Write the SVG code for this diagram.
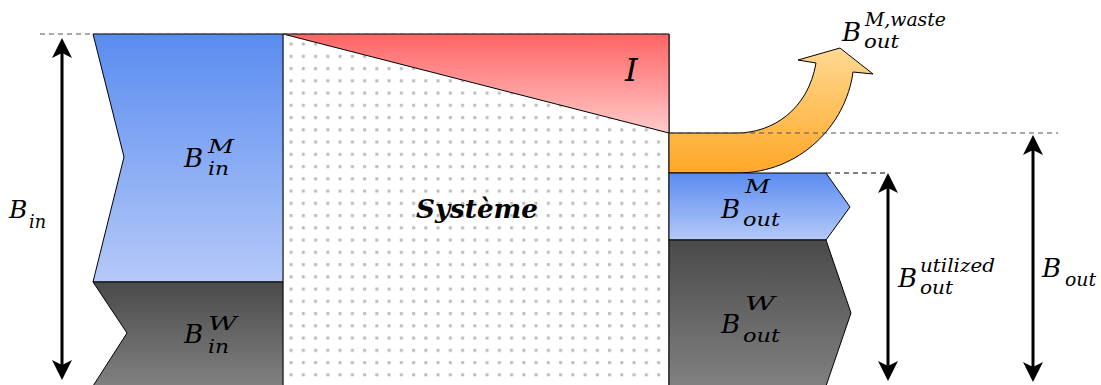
<svg xmlns="http://www.w3.org/2000/svg" width="1101" height="385" viewBox="0 0 1101 385">
<style>
.b{font-size:26px}
.s{font-size:19px}
.edge{stroke:#000;stroke-width:1;stroke-linejoin:miter}
.dash{stroke:#555;stroke-width:1;stroke-dasharray:5,4;fill:none}
.dim{stroke:#000;stroke-width:3;fill:none}
.head{fill:#000;stroke:none}
</style>
<defs>
<linearGradient id="gBlueIn" x1="0" y1="34" x2="0" y2="282" gradientUnits="userSpaceOnUse"><stop offset="0" stop-color="#5a8cf0"/><stop offset="1" stop-color="#b5c9f8"/></linearGradient>
<linearGradient id="gBlueOut" x1="0" y1="173" x2="0" y2="240" gradientUnits="userSpaceOnUse"><stop offset="0" stop-color="#5a8cf0"/><stop offset="1" stop-color="#b5c9f8"/></linearGradient>
<linearGradient id="gGrayIn" x1="0" y1="282" x2="0" y2="385" gradientUnits="userSpaceOnUse"><stop offset="0" stop-color="#4a4a4a"/><stop offset="1" stop-color="#808080"/></linearGradient>
<linearGradient id="gGrayOut" x1="0" y1="240" x2="0" y2="385" gradientUnits="userSpaceOnUse"><stop offset="0" stop-color="#4a4a4a"/><stop offset="1" stop-color="#808080"/></linearGradient>
<linearGradient id="gRed" x1="0" y1="34" x2="0" y2="133" gradientUnits="userSpaceOnUse"><stop offset="0" stop-color="#ff6464"/><stop offset="1" stop-color="#ffcaca"/></linearGradient>
<linearGradient id="gOrange" x1="0" y1="48" x2="0" y2="173" gradientUnits="userSpaceOnUse"><stop offset="0" stop-color="#ffd992"/><stop offset="1" stop-color="#ffa726"/></linearGradient>
<pattern id="dots" x="281" y="34" width="12.25" height="12.25" patternUnits="userSpaceOnUse"><rect x="8.6" y="8.6" width="3" height="3" fill="#bbbbbb"/></pattern>
</defs>

<g id="system" font-family="DejaVu Serif" font-style="italic">
<rect x="283" y="34" width="386" height="352" fill="#fff"/>
<rect x="283" y="34" width="386" height="352" fill="url(#dots)"/>
<line x1="283" y1="34" x2="283" y2="385" stroke="#999" stroke-width="1"/>
<line x1="669" y1="34" x2="669" y2="385" stroke="#000" stroke-width="1"/>
<text x="416" y="218" font-size="26" font-weight="bold" textLength="122" lengthAdjust="spacingAndGlyphs">Système</text>
</g>

<g id="irreversibility" font-family="DejaVu Serif" font-style="italic">
<polygon points="283,34 669,34 669,133" fill="url(#gRed)" class="edge"/>
<text x="625" y="81" font-size="32">I</text>
</g>

<g id="in-M" font-family="DejaVu Serif" font-style="italic">
<polygon points="93,34 283,34 283,282 93,282 124,157" fill="url(#gBlueIn)" class="edge"/>
<text class="b" x="184" y="167">B</text>
<text class="s" x="208" y="153" textLength="26" lengthAdjust="spacingAndGlyphs">M</text>
<text class="s" x="208" y="175" textLength="21" lengthAdjust="spacingAndGlyphs">in</text>
</g>

<g id="in-W" font-family="DejaVu Serif" font-style="italic">
<polygon points="93,282 283,282 283,386 93,386 127,333" fill="url(#gGrayIn)" class="edge"/>
<text class="b" x="184" y="343">B</text>
<text class="s" x="208" y="330" textLength="29" lengthAdjust="spacingAndGlyphs">W</text>
<text class="s" x="208" y="353" textLength="21" lengthAdjust="spacingAndGlyphs">in</text>
</g>

<g id="out-waste" font-family="DejaVu Serif" font-style="italic">
<path d="M669,173 L737,173 C800,173 846,125 853,72 L873,74 L840,48 L798,60 L816,63 C808,110 772,133 737,133 L669,133 Z" fill="url(#gOrange)" class="edge"/>
<text class="b" x="842" y="41">B</text>
<text class="s" x="865" y="26" textLength="81" lengthAdjust="spacingAndGlyphs">M,waste</text>
<text class="s" x="864" y="48" textLength="35" lengthAdjust="spacingAndGlyphs">out</text>
</g>

<g id="out-M" font-family="DejaVu Serif" font-style="italic">
<polygon points="669,173 826,173 850,207 826,240 669,240" fill="url(#gBlueOut)" class="edge"/>
<text class="b" x="721" y="218">B</text>
<text class="s" x="745" y="193" textLength="25" lengthAdjust="spacingAndGlyphs">M</text>
<text class="s" x="743" y="226" textLength="37" lengthAdjust="spacingAndGlyphs">out</text>
</g>

<g id="out-W" font-family="DejaVu Serif" font-style="italic">
<polygon points="669,240 826,240 851,313 826,386 669,386" fill="url(#gGrayOut)" class="edge"/>
<text class="b" x="721" y="333">B</text>
<text class="s" x="745" y="310" textLength="30" lengthAdjust="spacingAndGlyphs">W</text>
<text class="s" x="743" y="342" textLength="37" lengthAdjust="spacingAndGlyphs">out</text>
</g>

<g id="connectors">
<line class="dash" x1="40" y1="34" x2="669" y2="34"/>
<line class="dash" x1="669" y1="133" x2="1058" y2="133"/>
<line class="dash" x1="826" y1="173" x2="888" y2="173" style="stroke:#000"/>
<line class="dim" x1="62" y1="50" x2="62" y2="368"/>
<path class="head" d="M62,38 L72,58 L62,53 L52,58 Z"/>
<path class="head" d="M62,380 L72,360 L62,365 L52,360 Z"/>
<line class="dim" x1="888" y1="185" x2="888" y2="368"/>
<path class="head" d="M888,173 L898,193 L888,188 L878,193 Z"/>
<path class="head" d="M888,381 L898,361 L888,366 L878,361 Z"/>
<line class="dim" x1="1033" y1="147" x2="1033" y2="370"/>
<path class="head" d="M1033,135 L1043,155 L1033,150 L1023,155 Z"/>
<path class="head" d="M1033,382 L1043,362 L1033,367 L1023,362 Z"/>
</g>

<g id="labels" font-family="DejaVu Serif" font-style="italic">
<text x="9" y="218" font-size="25">B</text>
<text class="s" x="29" y="228" textLength="17" lengthAdjust="spacingAndGlyphs">in</text>
<text class="b" x="898" y="287">B</text>
<text class="s" x="920" y="272" textLength="75" lengthAdjust="spacingAndGlyphs">utilized</text>
<text class="s" x="920" y="294" textLength="33" lengthAdjust="spacingAndGlyphs">out</text>
<text class="b" x="1042" y="277">B</text>
<text class="s" x="1065" y="286" textLength="31" lengthAdjust="spacingAndGlyphs">out</text>
</g>
</svg>
